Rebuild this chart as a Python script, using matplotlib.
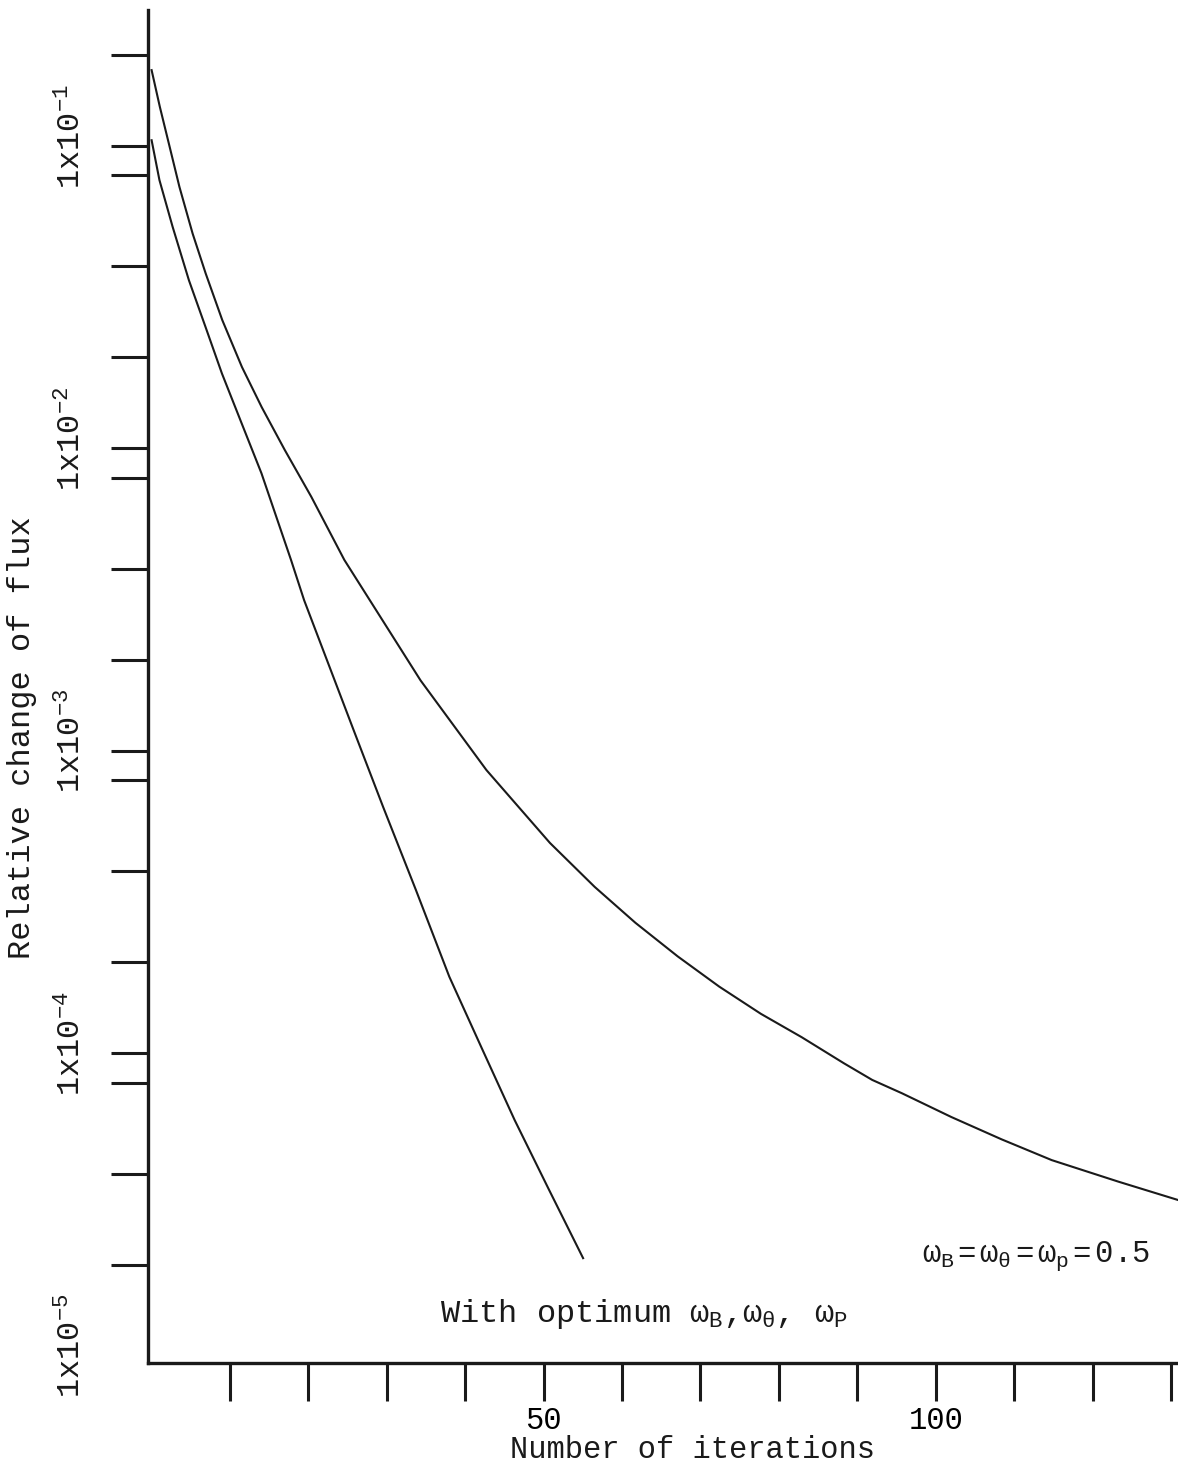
import matplotlib
matplotlib.use('Agg')
import matplotlib.pyplot as plt

plt.rcParams['font.family'] = 'Liberation Mono'
plt.rcParams['mathtext.fontset'] = 'custom'
plt.rcParams['mathtext.rm'] = 'Liberation Mono'
plt.rcParams['mathtext.it'] = 'Liberation Mono'
plt.rcParams['mathtext.tt'] = 'Liberation Mono'
plt.rcParams['mathtext.bf'] = 'Liberation Mono:bold'

# relaxation factors all 0.5
iters_half = [0, 1.05, 2.30, 3.55, 5.23, 6.90, 9.01, 11.52, 14.04, 16.99,
              20.37, 24.58, 34.3, 42.7, 50.8, 56.5, 61.7, 67.1, 72.4, 77.7,
              82.9, 88.3, 91.9, 95.7, 102.0, 108.4, 114.8, 123.3, 130.9]
flux_half = [0.1784, 0.1349, 0.0995, 0.0733, 0.0514, 0.0379, 0.0266, 0.0186,
             0.0137, 0.00988, 0.00692, 0.00428, 0.00171, 8.64e-4, 4.96e-4,
             3.55e-4, 2.70e-4, 2.09e-4, 1.66e-4, 1.35e-4, 1.13e-4, 9.26e-5,
             8.16e-5, 7.37e-5, 6.15e-5, 5.19e-5, 4.43e-5, 3.76e-5, 3.27e-5]

# optimum relaxation factors
iters_opt = [0, 1.0, 2.68, 4.76, 6.86, 8.97, 11.49, 14.01, 17.78, 19.45,
             25.77, 29.53, 33.7, 37.97, 42.1, 46.3, 50.6, 55.03]
flux_opt = [0.1046, 0.0772, 0.0541, 0.0360, 0.0253, 0.0177, 0.0121, 0.00828,
            0.00428, 0.00315, 0.00117, 6.52e-4, 3.47e-4, 1.79e-4, 1.04e-4,
            6.01e-5, 3.57e-5, 2.10e-5]

decades = [1e-1, 1e-2, 1e-3, 1e-4, 1e-5]
decade_labels = [r'$1x10^{-1}$', r'$1x10^{-2}$', r'$1x10^{-3}$',
                 r'$1x10^{-4}$', r'$1x10^{-5}$']
y_ticks = [2e-1, 1e-1, 8e-2, 4e-2, 2e-2, 1e-2, 8e-3, 4e-3, 2e-3, 1e-3,
           8e-4, 4e-4, 2e-4, 1e-4, 8e-5, 4e-5, 2e-5]
x_ticks = [10, 20, 30, 40, 50, 60, 70, 80, 90, 100, 110, 120, 130]
x_tick_labels = ['', '', '', '', '50', '', '', '', '', '100', '', '', '']

W, H = 1178, 1468
fig = plt.figure(figsize=(W / 100, H / 100), dpi=100)
ax = fig.add_axes([148 / W, 1 - 1363 / H, (W - 148) / W, (1363 - 10) / H])

ax.plot(iters_half, flux_half, color='#1a1a1a', lw=1.5)
ax.plot(iters_opt, flux_opt, color='#1a1a1a', lw=1.5)

ax.set_yscale('log')
ax.set_xlim(-0.46, 130.9)
ax.set_ylim(9.45e-6, 0.282)

ax.spines['top'].set_visible(False)
ax.spines['right'].set_visible(False)
for s in ['left', 'bottom']:
    ax.spines[s].set_linewidth(2.4)
    ax.spines[s].set_color('#1a1a1a')

ax.set_yticks(y_ticks)
ax.set_yticks([], minor=True)
ax.set_yticklabels([])
ax.set_xticks(x_ticks)
ax.set_xticklabels(x_tick_labels)
ax.tick_params(axis='both', which='major', direction='out', length=27,
               width=2.2, color='#1a1a1a', labelsize=22)
ax.tick_params(axis='x', pad=4)

# decade labels, rotated like the typed originals
for v, lab in zip(decades, decade_labels):
    ax.annotate(lab, xy=(0, v), xycoords=('axes fraction', 'data'),
                xytext=(-76, 10), textcoords='offset pixels',
                rotation=90, ha='center', va='center', fontsize=23,
                color='#1a1a1a', annotation_clip=False)

fig.text(693 / W, 1 - 1450 / H, 'Number of iterations', fontsize=22,
         ha='center', va='center', color='#1a1a1a')
fig.text(22 / W, 1 - 738 / H, 'Relative change of flux', fontsize=23,
         rotation=90, ha='center', va='center', color='#1a1a1a')

fig.text(440 / W, 1 - 1322 / H,
         r'With optimum $\omega_{B}$,$\omega_{\theta}$, $\omega_{P}$',
         fontsize=23, ha='left', va='baseline', color='#1a1a1a')
fig.text(922 / W, 1 - 1262 / H, r'$\omega_{B}=\omega_{\theta}=\omega_{p}=0.5$',
         fontsize=22, ha='left', va='baseline', color='#1a1a1a')

fig.savefig('out.png', dpi=100, facecolor='white')
